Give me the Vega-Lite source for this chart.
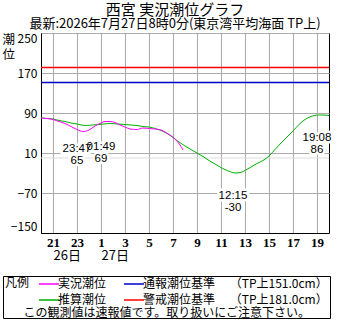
{
  "$schema": "https://vega.github.io/schema/vega-lite/v6.json",
  "width": 288,
  "height": 200,
  "autosize": {"type": "none"},
  "padding": {"left": 41, "top": 33, "right": 21, "bottom": 87},
  "background": "white",
  "title": {
    "text": "西宮 実況潮位グラフ",
    "subtitle": "最新:2026年7月27日8時0分(東京湾平均海面 TP上)",
    "anchor": "middle",
    "dx": -10,
    "offset": 1,
    "font": "Noto Sans CJK JP",
    "fontSize": 15,
    "fontWeight": "normal",
    "color": "black",
    "subtitleFont": "Noto Sans CJK JP",
    "subtitleFontSize": 13,
    "subtitleColor": "black",
    "subtitlePadding": 0
  },
  "datasets": {
    "tide": [
      {"t": "2026-07-26T20:00", "level": 80, "series": "推算潮位"},
      {"t": "2026-07-26T20:30", "level": 79, "series": "推算潮位"},
      {"t": "2026-07-26T21:00", "level": 78, "series": "推算潮位"},
      {"t": "2026-07-26T21:30", "level": 75, "series": "推算潮位"},
      {"t": "2026-07-26T22:00", "level": 73, "series": "推算潮位"},
      {"t": "2026-07-26T22:30", "level": 70, "series": "推算潮位"},
      {"t": "2026-07-26T23:00", "level": 68, "series": "推算潮位"},
      {"t": "2026-07-26T23:20", "level": 66, "series": "推算潮位"},
      {"t": "2026-07-26T23:47", "level": 65, "series": "推算潮位"},
      {"t": "2026-07-27T00:15", "level": 66, "series": "推算潮位"},
      {"t": "2026-07-27T00:45", "level": 67, "series": "推算潮位"},
      {"t": "2026-07-27T01:15", "level": 68, "series": "推算潮位"},
      {"t": "2026-07-27T01:49", "level": 69, "series": "推算潮位"},
      {"t": "2026-07-27T02:20", "level": 68, "series": "推算潮位"},
      {"t": "2026-07-27T03:00", "level": 67, "series": "推算潮位"},
      {"t": "2026-07-27T03:30", "level": 66, "series": "推算潮位"},
      {"t": "2026-07-27T04:00", "level": 65, "series": "推算潮位"},
      {"t": "2026-07-27T04:30", "level": 63, "series": "推算潮位"},
      {"t": "2026-07-27T05:00", "level": 62, "series": "推算潮位"},
      {"t": "2026-07-27T05:30", "level": 59, "series": "推算潮位"},
      {"t": "2026-07-27T06:00", "level": 55, "series": "推算潮位"},
      {"t": "2026-07-27T06:30", "level": 49, "series": "推算潮位"},
      {"t": "2026-07-27T07:00", "level": 41, "series": "推算潮位"},
      {"t": "2026-07-27T07:30", "level": 32, "series": "推算潮位"},
      {"t": "2026-07-27T08:00", "level": 24, "series": "推算潮位"},
      {"t": "2026-07-27T08:30", "level": 17, "series": "推算潮位"},
      {"t": "2026-07-27T09:00", "level": 10, "series": "推算潮位"},
      {"t": "2026-07-27T09:30", "level": 3, "series": "推算潮位"},
      {"t": "2026-07-27T10:00", "level": -5, "series": "推算潮位"},
      {"t": "2026-07-27T10:30", "level": -12, "series": "推算潮位"},
      {"t": "2026-07-27T11:00", "level": -19, "series": "推算潮位"},
      {"t": "2026-07-27T11:30", "level": -25, "series": "推算潮位"},
      {"t": "2026-07-27T12:15", "level": -30, "series": "推算潮位"},
      {"t": "2026-07-27T12:45", "level": -28, "series": "推算潮位"},
      {"t": "2026-07-27T13:00", "level": -25, "series": "推算潮位"},
      {"t": "2026-07-27T13:30", "level": -18, "series": "推算潮位"},
      {"t": "2026-07-27T14:00", "level": -11, "series": "推算潮位"},
      {"t": "2026-07-27T14:30", "level": -5, "series": "推算潮位"},
      {"t": "2026-07-27T15:00", "level": 4, "series": "推算潮位"},
      {"t": "2026-07-27T15:30", "level": 17, "series": "推算潮位"},
      {"t": "2026-07-27T16:00", "level": 30, "series": "推算潮位"},
      {"t": "2026-07-27T16:30", "level": 42, "series": "推算潮位"},
      {"t": "2026-07-27T17:00", "level": 54, "series": "推算潮位"},
      {"t": "2026-07-27T17:30", "level": 67, "series": "推算潮位"},
      {"t": "2026-07-27T18:00", "level": 77, "series": "推算潮位"},
      {"t": "2026-07-27T18:30", "level": 83, "series": "推算潮位"},
      {"t": "2026-07-27T19:08", "level": 86, "series": "推算潮位"},
      {"t": "2026-07-27T19:30", "level": 86, "series": "推算潮位"},
      {"t": "2026-07-27T20:00", "level": 85, "series": "推算潮位"},
      {"t": "2026-07-26T20:00", "level": 80, "series": "実況潮位"},
      {"t": "2026-07-26T20:30", "level": 79, "series": "実況潮位"},
      {"t": "2026-07-26T21:00", "level": 77, "series": "実況潮位"},
      {"t": "2026-07-26T21:30", "level": 73, "series": "実況潮位"},
      {"t": "2026-07-26T22:00", "level": 69, "series": "実況潮位"},
      {"t": "2026-07-26T22:30", "level": 63, "series": "実況潮位"},
      {"t": "2026-07-26T23:00", "level": 57, "series": "実況潮位"},
      {"t": "2026-07-26T23:30", "level": 53, "series": "実況潮位"},
      {"t": "2026-07-27T00:00", "level": 56, "series": "実況潮位"},
      {"t": "2026-07-27T00:30", "level": 64, "series": "実況潮位"},
      {"t": "2026-07-27T01:00", "level": 70, "series": "実況潮位"},
      {"t": "2026-07-27T01:20", "level": 73, "series": "実況潮位"},
      {"t": "2026-07-27T01:45", "level": 73, "series": "実況潮位"},
      {"t": "2026-07-27T02:10", "level": 71, "series": "実況潮位"},
      {"t": "2026-07-27T02:35", "level": 66, "series": "実況潮位"},
      {"t": "2026-07-27T03:00", "level": 62, "series": "実況潮位"},
      {"t": "2026-07-27T03:25", "level": 58, "series": "実況潮位"},
      {"t": "2026-07-27T04:00", "level": 57, "series": "実況潮位"},
      {"t": "2026-07-27T04:30", "level": 60, "series": "実況潮位"},
      {"t": "2026-07-27T05:00", "level": 59, "series": "実況潮位"},
      {"t": "2026-07-27T05:30", "level": 58, "series": "実況潮位"},
      {"t": "2026-07-27T06:00", "level": 56, "series": "実況潮位"},
      {"t": "2026-07-27T06:20", "level": 52, "series": "実況潮位"},
      {"t": "2026-07-27T06:45", "level": 46, "series": "実況潮位"},
      {"t": "2026-07-27T07:10", "level": 38, "series": "実況潮位"},
      {"t": "2026-07-27T07:35", "level": 26, "series": "実況潮位"},
      {"t": "2026-07-27T07:50", "level": 16, "series": "実況潮位"}
    ],
    "thresholds": [
      {"series": "通報潮位基準", "level": 151},
      {"series": "警戒潮位基準", "level": 181}
    ],
    "zero_line": [{"level": 0}],
    "extremes": [
      {"t": "2026-07-26T23:47", "level": 65},
      {"t": "2026-07-27T01:49", "level": 69},
      {"t": "2026-07-27T12:15", "level": -30},
      {"t": "2026-07-27T19:08", "level": 86}
    ]
  },
  "resolve": {"axis": {"x": "independent"}},
  "layer": [
    {
      "data": {"name": "zero_line"},
      "mark": {"type": "rule", "color": "#dddddd", "strokeWidth": 1},
      "encoding": {
        "y": {
          "field": "level",
          "type": "quantitative",
          "scale": {"domain": [-150, 250], "nice": false, "zero": false},
          "axis": {
            "title": "潮\n位",
            "titleAngle": 0,
            "titleX": -39,
            "titleY": 0,
            "titleAlign": "left",
            "titleBaseline": "top",
            "titleFont": "Noto Sans CJK JP",
            "titleFontSize": 12.5,
            "titleFontWeight": "normal",
            "titleLineHeight": 15,
            "titleColor": "black",
            "values": [-150, -70, 10, 90, 170, 250],
            "tickCount": 12,
            "labelFont": "Noto Sans CJK JP",
            "labelFontSize": 12,
            "labelColor": "black",
            "labelPadding": 4,
            "labelFlush": true,
            "labelFlushOffset": 0,
            "labelOverlap": false,
            "labelBound": false,
            "ticks": false,
            "tickSize": 0,
            "grid": true,
            "gridColor": "#aaaaaa",
            "domainColor": "black"
          }
        }
      }
    },
    {
      "data": {"name": "thresholds"},
      "mark": {"type": "rule", "strokeWidth": 1.4},
      "encoding": {
        "y": {"field": "level", "type": "quantitative"},
        "color": {"field": "series", "type": "nominal"}
      }
    },
    {
      "data": {"name": "tide"},
      "mark": {"type": "line", "strokeWidth": 1, "interpolate": "monotone"},
      "encoding": {
        "x": {
          "field": "t",
          "type": "temporal",
          "scale": {
            "domain": [
              {"year": 2026, "month": 7, "date": 26, "hours": 20},
              {"year": 2026, "month": 7, "date": 27, "hours": 20}
            ]
          },
          "axis": {
            "orient": "bottom",
            "title": null,
            "format": "%-H",
            "values": [
              {"year": 2026, "month": 7, "date": 26, "hours": 21},
              {"year": 2026, "month": 7, "date": 26, "hours": 23},
              {"year": 2026, "month": 7, "date": 27, "hours": 1},
              {"year": 2026, "month": 7, "date": 27, "hours": 3},
              {"year": 2026, "month": 7, "date": 27, "hours": 5},
              {"year": 2026, "month": 7, "date": 27, "hours": 7},
              {"year": 2026, "month": 7, "date": 27, "hours": 9},
              {"year": 2026, "month": 7, "date": 27, "hours": 11},
              {"year": 2026, "month": 7, "date": 27, "hours": 13},
              {"year": 2026, "month": 7, "date": 27, "hours": 15},
              {"year": 2026, "month": 7, "date": 27, "hours": 17},
              {"year": 2026, "month": 7, "date": 27, "hours": 19}
            ],
            "tickCount": 30,
            "labelFont": "Liberation Serif",
            "labelFontSize": 13,
            "labelFontWeight": "bold",
            "labelColor": "black",
            "labelBaseline": "top",
            "labelPadding": 3,
            "labelFlush": false,
            "labelOverlap": false,
            "ticks": false,
            "tickSize": 0,
            "grid": true,
            "gridColor": "#aaaaaa",
            "domainColor": "black"
          }
        },
        "y": {"field": "level", "type": "quantitative"},
        "color": {
          "field": "series",
          "type": "nominal",
          "scale": {
            "domain": ["実況潮位", "通報潮位基準", "推算潮位", "警戒潮位基準"],
            "range": ["#ff00ff", "#0000cc", "#00b000", "#ff0000"]
          },
          "legend": {
            "orient": "none",
            "legendX": -38,
            "legendY": 243,
            "direction": "horizontal",
            "columns": 2,
            "title": "凡例\n \n ",
            "titleOrient": "left",
            "titleAnchor": "start",
            "titleBaseline": "top",
            "titlePadding": 8,
            "titleFont": "Noto Sans CJK JP",
            "titleFontSize": 12,
            "titleFontWeight": "normal",
            "titleLineHeight": 13.5,
            "titleColor": "black",
            "labelFont": "Noto Sans CJK JP",
            "labelFontSize": 12,
            "labelColor": "black",
            "labelExpr": "datum.label === '通報潮位基準' ? '通報潮位基準　 （TP上151.0cm）　  ' : datum.label === '警戒潮位基準' ? '警戒潮位基準　 （TP上181.0cm）　  ' : datum.label === '推算潮位' ? ' 推算潮位' : datum.label",
            "labelLimit": 400,
            "symbolType": "M-2,0H2",
            "symbolSize": 100,
            "symbolOffset": 5,
            "labelOffset": 3,
            "symbolStrokeWidth": 1.5,
            "columnPadding": 14,
            "rowPadding": 4,
            "padding": 2,
            "strokeColor": "black"
          }
        }
      }
    },
    {
      "data": {"name": "extremes"},
      "transform": [
        {"calculate": "timeFormat(toDate(datum.t), '%H:%M') + '\\n' + datum.level", "as": "label"}
      ],
      "mark": {
        "type": "text",
        "font": "Liberation Sans",
        "fontSize": 11.5,
        "lineBreak": "\n",
        "lineHeight": 12,
        "baseline": "middle",
        "dy": 23,
        "stroke": "white",
        "strokeWidth": 5,
        "fill": "white"
      },
      "encoding": {
        "x": {
          "field": "t",
          "type": "temporal",
          "timeUnit": "yearmonthdatehours",
          "axis": {
            "orient": "bottom",
            "values": [
              {"year": 2026, "month": 7, "date": 26, "hours": 21},
              {"year": 2026, "month": 7, "date": 27, "hours": 1}
            ],
            "format": "%-d日",
            "labelFont": "Noto Sans CJK JP",
            "labelFontSize": 13,
            "labelColor": "black",
            "labelAlign": "left",
            "labelBaseline": "top",
            "labelPadding": 16,
            "labelFlush": false,
            "labelOverlap": false,
            "ticks": false,
            "tickSize": 0,
            "grid": false,
            "domain": false,
            "title": "この観測値は速報値です。取り扱いにご注意下さい。",
            "titleX": -18,
            "titleY": 74,
            "titleAlign": "left",
            "titleBaseline": "top",
            "titleFont": "Noto Sans CJK JP",
            "titleFontSize": 12,
            "titleFontWeight": "normal",
            "titleColor": "black"
          }
        },
        "y": {"field": "level", "type": "quantitative"},
        "text": {"field": "label", "type": "nominal"}
      }
    },
    {
      "data": {"name": "extremes"},
      "transform": [
        {"calculate": "timeFormat(toDate(datum.t), '%H:%M') + '\\n' + datum.level", "as": "label"}
      ],
      "mark": {
        "type": "text",
        "font": "Liberation Sans",
        "fontSize": 11.5,
        "lineBreak": "\n",
        "lineHeight": 12,
        "baseline": "middle",
        "dy": 23,
        "fill": "black"
      },
      "encoding": {
        "x": {"field": "t", "type": "temporal", "timeUnit": "yearmonthdatehours", "axis": null},
        "y": {"field": "level", "type": "quantitative"},
        "text": {"field": "label", "type": "nominal"}
      }
    }
  ],
  "config": {
    "view": {"stroke": "black", "strokeWidth": 1},
    "axis": {"domainWidth": 1, "gridWidth": 1},
    "axisY": {"labelOverlap": false},
    "style": {"guide-title": {"lineBreak": "\n"}}
  }
}
